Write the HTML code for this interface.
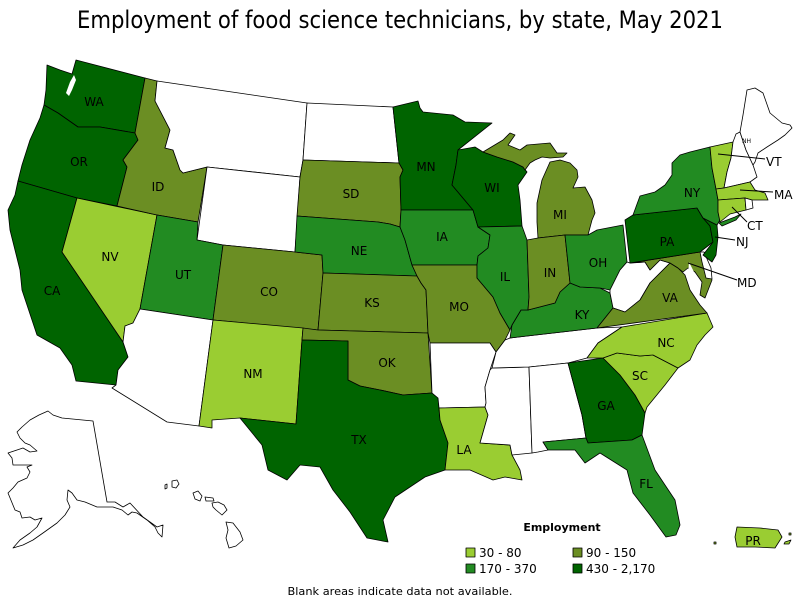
<!DOCTYPE html>
<html><head><meta charset="utf-8"><style>
html,body{margin:0;padding:0;background:#fff;}
svg{display:block;}
.s{stroke:#000;stroke-width:0.8;stroke-linejoin:round;}
.L{fill:#9ACD32}.O{fill:#6B8E23}.F{fill:#228B22}.D{fill:#006400}.W{fill:#fff}
.t{font-family:"DejaVu Sans","Liberation Sans",sans-serif;font-size:12px;fill:#000;text-anchor:middle;}
.lg{font-family:"DejaVu Sans","Liberation Sans",sans-serif;font-size:12px;fill:#000;}
</style></head><body>
<svg width="800" height="600" viewBox="0 0 800 600" xmlns="http://www.w3.org/2000/svg">
<text x="400" y="28" textLength="646" lengthAdjust="spacingAndGlyphs" style="font-family:'DejaVu Sans Condensed','DejaVu Sans','Liberation Sans',sans-serif;font-size:24px;text-anchor:middle;fill:#000">Employment of food science technicians, by state, May 2021</text>

<g class="s">
<!-- WA -->
<polygon class="D" points="47,65 60,70 72,74 76,60 145,78 135,133 100,127 78,127 58,113 44,105 46,90"/>
<polygon class="W" points="66,93 70,82 74,75 76,80 72,90 69,96" style="stroke:none"/>
<!-- OR -->
<polygon class="D" points="44,105 58,113 78,127 100,127 135,133 138,140 123,160 127,167 117,206 77,198 18,181 22,165 30,140 40,118"/>
<!-- CA -->
<polygon class="D" points="18,181 77,198 62,252 123,342 128,357 118,370 116,385 76,381 72,365 60,348 37,335 32,320 22,290 20,270 15,250 10,230 8,210 15,195"/>
<!-- NV -->
<polygon class="L" points="77,198 157,215 140,309 133,323 125,326 123,342 62,252"/>
<!-- ID -->
<polygon class="O" points="145,78 157,81 155,101 170,130 165,148 173,150 180,170 183,173 203,168 207,167 198,222 157,215 117,206 127,167 123,160 138,140 135,133"/>
<!-- MT -->
<polygon class="W" points="157,81 307,103 303,160 300,177 207,167 203,168 183,173 180,170 173,150 165,148 170,130 155,101"/>
<!-- WY -->
<polygon class="W" points="207,167 300,177 295,252 223,245 197,240"/>
<!-- UT -->
<polygon class="F" points="157,215 198,222 197,240 223,245 213,320 140,309"/>
<!-- CO -->
<polygon class="O" points="223,245 295,252 322,255 323,273 318,330 213,320"/>
<!-- AZ -->
<polygon class="W" points="140,309 213,320 199,426 167,422 112,388 116,385 118,370 128,357 123,342 125,326 133,323"/>
<!-- NM -->
<polygon class="L" points="213,320 303,328 302,340 296,424 240,418 212,420 212,428 199,426"/>
<!-- ND -->
<polygon class="W" points="307,103 393,107 399,163 303,160"/>
<!-- SD -->
<polygon class="O" points="303,160 399,163 403,170 400,177 401,210 400,227 390,224 378,222 297,216 300,177"/>
<!-- NE -->
<polygon class="F" points="297,216 378,222 390,224 400,227 405,240 412,265 417,276 323,273 322,255 295,252"/>
<!-- KS -->
<polygon class="O" points="323,273 417,276 421,283 426,290 428,333 318,330"/>
<!-- OK -->
<polygon class="O" points="303,328 318,330 428,333 432,393 403,395 380,390 360,386 348,380 348,341 302,340"/>
<!-- TX -->
<polygon class="D" points="302,340 348,341 348,380 360,386 380,390 403,395 432,393 438,398 440,420 448,443 445,470 425,477 395,497 383,520 388,542 367,538 350,512 333,490 320,467 300,465 287,480 268,470 262,445 240,418 296,424"/>
<!-- MN -->
<polygon class="D" points="393,107 418,101 420,108 423,112 453,115 465,122 492,123 458,150 456,165 452,185 473,210 401,210 400,177 403,170 399,163"/>
<!-- IA -->
<polygon class="F" points="401,210 473,210 478,227 490,235 488,248 478,256 477,265 412,265 405,240 400,227"/>
<!-- MO -->
<polygon class="O" points="412,265 477,265 477,278 493,297 500,313 510,330 505,340 496,352 490,343 430,343 428,333 426,290 421,283 417,276"/>
<!-- AR -->
<polygon class="W" points="430,343 490,343 496,352 490,370 485,387 486,403 485,407 439,408 438,398 432,393"/>
<!-- LA -->
<polygon class="L" points="439,408 485,407 488,415 480,443 510,445 512,455 520,470 522,480 505,477 493,480 470,470 445,470 448,443 440,420"/>
<!-- MS -->
<polygon class="W" points="492,368 529,367 532,453 512,455 510,445 480,443 488,415 485,407 486,403 485,387 490,370"/>
<!-- TN -->
<polygon class="W" points="510,338 527,336 597,328 622,327 598,343 587,358 568,363 529,367 492,368 496,352 505,340"/>
<!-- AL -->
<polygon class="W" points="529,367 568,363 582,415 586,438 543,442 548,450 538,452 532,453"/>
<!-- GA -->
<polygon class="D" points="568,363 603,358 620,375 635,395 645,413 642,435 632,440 588,443 586,438 582,415"/>
<!-- FL -->
<polygon class="F" points="543,442 586,438 588,443 632,440 642,435 655,470 675,500 680,525 676,535 666,537 650,515 633,493 627,470 600,453 585,463 575,450 555,450 548,450"/>
<!-- SC -->
<polygon class="L" points="603,358 617,353 640,356 653,355 678,368 665,385 647,407 645,413 635,395 620,375"/>
<!-- NC -->
<polygon class="L" points="622,327 707,313 713,327 705,335 697,345 690,360 678,368 653,355 640,356 617,353 603,358 587,358 598,343"/>
<!-- KY -->
<polygon class="F" points="510,338 512,325 521,310 528,310 555,303 560,292 570,283 580,287 600,288 610,293 613,308 597,328 527,336"/>
<!-- WI -->
<polygon class="D" points="458,150 475,147 483,152 497,157 513,162 523,167 527,172 518,185 520,200 522,226 478,227 473,210 452,185 456,165"/>
<!-- MI UP -->
<polygon class="O" points="483,152 503,140 510,133 515,135 508,145 520,150 527,145 550,143 557,153 567,153 563,157 550,158 542,157 535,160 530,163 525,170 523,167 513,162 497,157"/>
<!-- MI LP -->
<polygon class="O" points="550,162 560,160 570,163 577,170 578,177 573,188 585,187 592,200 595,213 592,220 588,235 565,235 538,238 537,222 537,203 542,180"/>
<!-- IL -->
<polygon class="F" points="478,227 522,226 527,240 529,297 528,310 521,310 512,325 510,330 500,313 493,297 477,278 477,265 478,256 488,248 490,235"/>
<!-- IN -->
<polygon class="O" points="527,240 538,238 565,235 570,283 560,292 555,303 528,310 529,297"/>
<!-- OH -->
<polygon class="F" points="565,235 588,235 597,230 623,225 627,262 620,270 610,290 600,288 580,287 570,283"/>
<!-- WV -->
<polygon class="W" points="627,262 630,263 645,262 650,270 660,260 670,263 663,270 650,283 640,300 625,312 613,308 610,293 610,290 620,270"/>
<!-- VA -->
<polygon class="O" points="597,328 613,308 625,312 640,300 650,283 663,270 670,263 678,268 685,275 690,290 700,305 707,313"/>
<!-- MD -->
<polygon class="O" points="630,263 700,252 703,258 712,280 705,298 700,295 702,282 695,272 688,268 683,272 678,268 670,263 660,260 650,270 645,262"/>
<!-- DE -->
<polygon class="W" points="700,252 704,252 711,268 712,279 706,278 702,262"/>
<polygon class="W" points="689,262 694,272 699,286 698,298 693,290 688,276" style="stroke:none"/>
<!-- PA -->
<polygon class="D" points="625,220 633,215 697,208 703,218 710,226 713,242 700,252 630,263"/>
<!-- NJ -->
<polygon class="D" points="703,218 717,225 718,237 716,255 712,262 703,255 713,242 710,226"/>
<!-- NY -->
<polygon class="F" points="633,215 640,196 655,192 665,185 672,175 672,163 680,155 690,152 710,147 712,168 716,189 718,200 718,212 720,220 717,225 703,218 697,208"/>
<polygon class="F" points="719,223 735,217 741,214 736,220 722,226"/>
<!-- VT -->
<polygon class="L" points="710,147 733,142 731,158 727,172 724,188 716,189 712,168"/>
<!-- NH -->
<polygon class="W" points="733,142 736,134 740,132 746,150 753,165 757,177 750,182 724,188 727,172 731,158"/>
<!-- ME -->
<polygon class="W" points="747,90 755,88 763,93 770,113 782,123 790,125 792,128 785,135 778,140 767,147 758,153 755,162 753,165 746,150 740,132 743,115"/>
<!-- MA -->
<polygon class="L" points="716,189 724,188 750,182 755,190 765,193 768,200 760,200 752,200 745,198 718,200"/>
<!-- CT -->
<polygon class="L" points="718,200 745,198 746,210 730,214 720,222 718,212"/>
<!-- RI -->
<polygon class="W" points="745,198 752,200 753,208 746,210"/>
<!-- AK -->
<polygon class="W" points="22,427 30,420 39,415 48,411 53,415 62,418 93,421 107,502 115,502 123,507 130,503 143,517 157,527 163,525 162,537 158,533 155,527 147,520 137,513 132,512 128,515 122,510 113,507 107,507 97,507 85,502 77,500 72,493 68,490 67,500 70,507 65,515 57,523 43,533 33,540 23,545 13,548 20,540 30,533 37,527 42,518 35,520 30,517 22,518 20,512 15,510 8,493 13,488 18,482 27,478 30,472 27,467 32,465 13,465 12,458 8,453 17,450 23,448 30,452 37,451 30,445 25,443 20,438 17,432"/>
<!-- HI -->
<polygon class="W" points="165,485 167,484 167,488 165,489"/>
<polygon class="W" points="172,481 177,480 179,484 176,488 172,487"/>
<polygon class="W" points="193,493 198,491 202,496 200,501 195,499"/>
<polygon class="W" points="205,497 213,498 214,501 206,501"/>
<polygon class="W" points="212,503 218,502 224,505 227,510 222,515 216,510 213,507"/>
<polygon class="W" points="226,522 233,523 240,532 243,540 236,546 229,548 226,538 228,530"/>
<!-- PR -->
<polygon class="L" points="737,527 760,528 778,530 782,537 775,548 755,547 737,547 735,537"/>
<polygon class="L" points="714,542 716,542 716,544 714,544"/>
<polygon class="L" points="785,542 791,540 789,544 784,544"/>
<polygon class="L" points="789,533 791,533 791,535 789,535"/>
</g>

<!-- leader lines -->
<g stroke="#000" stroke-width="1">
<line x1="718" y1="154" x2="765" y2="159"/>
<line x1="740" y1="190" x2="773" y2="192"/>
<line x1="732" y1="207" x2="747" y2="222"/>
<line x1="715" y1="237" x2="735" y2="240"/>
<line x1="688" y1="263" x2="737" y2="280"/>
</g>

<g class="t">
<text x="94" y="106">WA</text>
<text x="79" y="166">OR</text>
<text x="158" y="191">ID</text>
<text x="110" y="261">NV</text>
<text x="183" y="279">UT</text>
<text x="269" y="296">CO</text>
<text x="52" y="295">CA</text>
<text x="253" y="378">NM</text>
<text x="351" y="198">SD</text>
<text x="359" y="255">NE</text>
<text x="372" y="307">KS</text>
<text x="387" y="367">OK</text>
<text x="359" y="444">TX</text>
<text x="426" y="171">MN</text>
<text x="442" y="241">IA</text>
<text x="459" y="311">MO</text>
<text x="464" y="454">LA</text>
<text x="492" y="192">WI</text>
<text x="560" y="219">MI</text>
<text x="505" y="281">IL</text>
<text x="550" y="277">IN</text>
<text x="598" y="267">OH</text>
<text x="582" y="319">KY</text>
<text x="670" y="302">VA</text>
<text x="666" y="347">NC</text>
<text x="640" y="380">SC</text>
<text x="606" y="410">GA</text>
<text x="646" y="488">FL</text>
<text x="667" y="246">PA</text>
<text x="692" y="197">NY</text>
<text x="753" y="545">PR</text>
</g>
<g class="lg">
<text x="766" y="166">VT</text>
<text x="774" y="199">MA</text>
<text x="747" y="230">CT</text>
<text x="736" y="246">NJ</text>
<text x="737" y="287">MD</text>
<text x="742" y="143" style="font-size:6px">NH</text>
</g>

<!-- legend -->
<text x="562" y="531" style="font-family:'DejaVu Sans','Liberation Sans',sans-serif;font-size:11px;font-weight:bold;text-anchor:middle;fill:#000">Employment</text>
<g class="s">
<rect x="466" y="548" width="9" height="9" class="L"/>
<rect x="573" y="548" width="9" height="9" class="O"/>
<rect x="466" y="564" width="9" height="9" class="F"/>
<rect x="573" y="564" width="9" height="9" class="D"/>
</g>
<g class="lg">
<text x="479" y="557">30 - 80</text>
<text x="586" y="557">90 - 150</text>
<text x="479" y="573">170 - 370</text>
<text x="586" y="573">430 - 2,170</text>
</g>
<text x="400" y="595" textLength="225" lengthAdjust="spacingAndGlyphs" style="font-family:'DejaVu Sans','Liberation Sans',sans-serif;font-size:11px;text-anchor:middle;fill:#000">Blank areas indicate data not available.</text>
</svg>
</body></html>
